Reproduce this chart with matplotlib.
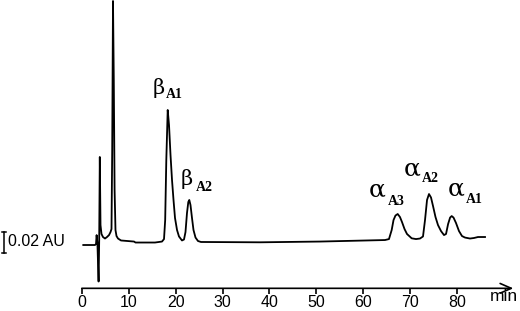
import matplotlib
matplotlib.use('Agg')
import matplotlib.pyplot as plt

# chromatogram trace: time (min) and absorbance (AU)
time_min = [0.21, 2.71, 2.93, 3.06, 3.23, 3.48, 3.61, 3.74, 3.89, 4.10,
            4.42, 4.85, 5.28, 5.71, 6.03, 6.24, 6.39, 6.56, 6.73, 6.90,
            7.09, 7.31, 7.63, 8.27, 11.05, 11.37, 15.53, 17.03, 17.46, 17.71,
            17.95, 18.25, 18.53, 18.85, 19.17, 19.49, 19.81, 20.24, 20.66, 21.30,
            21.73, 22.05, 22.37, 22.65, 22.86, 23.12, 23.44, 23.76, 24.19, 24.72,
            25.36, 37.97, 50.79, 64.68, 65.53, 66.11, 66.50, 66.92, 67.39, 67.88,
            68.31, 68.85, 69.38, 70.38, 71.30, 72.16, 72.80, 73.23, 73.66, 74.08,
            74.51, 74.94, 75.47, 76.00, 76.65, 77.29, 77.72, 78.16, 78.59, 78.93,
            79.32, 79.85, 80.49, 81.13, 81.77, 82.84, 83.70, 84.55, 86.05]
absorb = [-0.0023, -0.0023, -0.0014, 0.0069, -0.0005, -0.0361, 0.0023, 0.0792, 0.0162, 0.0079,
          0.0051, 0.0037, 0.0051, 0.0069, 0.0097, 0.0125, 0.0856, 0.2236, 0.150, 0.0486,
          0.0116, 0.0060, 0.0037, 0.0019, 0.0009, 0.0, 0.0, 0.0009, 0.0032, 0.0208,
          0.0764, 0.1227, 0.1088, 0.081, 0.0579, 0.0394, 0.0227, 0.0116, 0.0056, 0.0019,
          0.0028, 0.0097, 0.0273, 0.0375, 0.0394, 0.0347, 0.0227, 0.0116, 0.0046, 0.0014,
          0.0005, 0.0002, 0.0009, 0.0023, 0.0032, 0.0116, 0.0208, 0.025, 0.0264, 0.0236,
          0.019, 0.0125, 0.0079, 0.0039, 0.0032, 0.0037, 0.0056, 0.0208, 0.0394, 0.0449,
          0.0417, 0.0338, 0.0236, 0.0162, 0.0106, 0.0069, 0.0079, 0.0171, 0.0231, 0.0245,
          0.0231, 0.0181, 0.0106, 0.006, 0.0046, 0.0037, 0.0042, 0.0051, 0.0051]

x_ticks = [0, 10, 20, 30, 40, 50, 60, 70, 80]

# peak labels: greek letter, subscript
peak_greek = ['β', 'β', 'α', 'α', 'α']
peak_sub = ['A1', 'A2', 'A3', 'A2', 'A1']

scale_bar_au = 0.02

fig = plt.figure(figsize=(5.2, 3.11), dpi=100)
ax = fig.add_axes([0, 0, 1, 1])
ax.set_xlim(-17.585, 93.526)
ax.set_ylim(-0.0634, 0.22454)

ax.plot(time_min, absorb, color='black', lw=1.3, solid_joinstyle='round')

# time axis with arrow
y_axis = -0.0424
for s in ['left', 'right', 'top']:
    ax.spines[s].set_visible(False)
ax.spines['bottom'].set_position(('data', y_axis))
ax.spines['bottom'].set_color('none')
ax.annotate('', xy=(92.1, y_axis), xytext=(-0.1, y_axis),
            arrowprops=dict(arrowstyle='->,head_length=0.8,head_width=0.35',
                            lw=1.2, color='black', shrinkA=0, shrinkB=0))
ax.set_yticks([])
ax.set_xticks(x_ticks)
ax.tick_params(axis='x', direction='out', length=4, width=1.2, pad=1,
               labelsize=11.5, color='black')
for lab in ax.get_xticklabels():
    lab.set_family('Liberation Sans')
ax.text(87.1, -0.0545, 'min', fontsize=12.5, family='Liberation Sans',
        ha='left', va='baseline')

# 0.02 AU scale bar
xb = -16.73
cap = 0.42
ax.plot([xb, xb], [-scale_bar_au / 2, scale_bar_au / 2], color='black', lw=1.1)
ax.plot([xb - cap, xb + cap], [scale_bar_au / 2] * 2, color='black', lw=1.1)
ax.plot([xb - cap, xb + cap], [-scale_bar_au / 2] * 2, color='black', lw=1.1)
ax.text(-15.85, 0.0012, '0.02 AU', fontsize=11.5, family='Liberation Sans',
        ha='left', va='center')

# peak labels: greek letter baseline and subscript baseline positions
greek_pos = [(15.04, 0.1375), (21.09, 0.0532), (61.3, 0.0424), (68.59, 0.0619), (78.0, 0.0433)]
sub_pos = [(17.89, 0.134), (24.23, 0.0474), (65.32, 0.0347), (72.52, 0.0557), (81.99, 0.0363)]
greek_size = {'β': 15, 'α': 18}
for g, sub, (gx, gy), (sx, sy) in zip(peak_greek, peak_sub, greek_pos, sub_pos):
    ax.text(gx, gy, g, fontsize=greek_size[g], family='DejaVu Serif',
            ha='left', va='baseline')
    ax.text(sx, sy, sub, fontsize=10, family='Liberation Serif', weight='bold',
            ha='left', va='baseline')

fig.savefig('out.png', dpi=100)
